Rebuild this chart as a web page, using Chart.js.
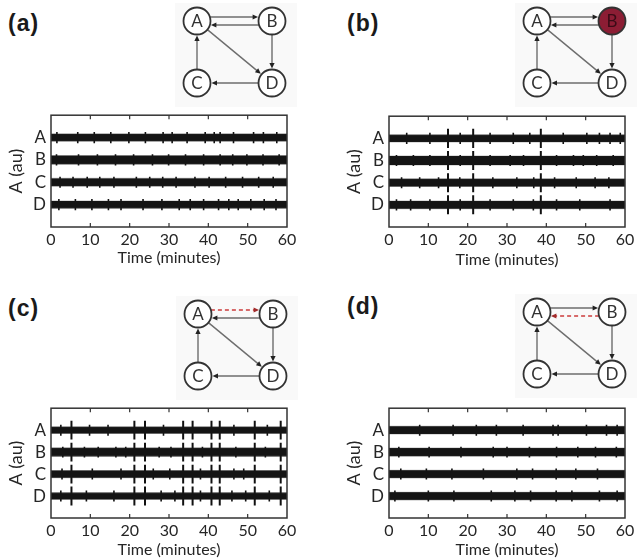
<!DOCTYPE html>
<html><head><meta charset="utf-8">
<script src="https://cdn.jsdelivr.net/npm/chart.js@4.4.1/dist/chart.umd.min.js"></script>
<style>
html,body{margin:0;padding:0;background:#fff;}
#root{position:relative;width:638px;height:559px;overflow:hidden;background:#fff;filter:blur(0.35px);}
canvas{position:absolute;}
.lbl{position:absolute;font-family:"Liberation Sans",Arial,sans-serif;font-weight:bold;font-size:23px;color:#1a1a1a;line-height:1;letter-spacing:1px;}
.dg{background:#f9f9f9;}
</style></head><body>
<div id="root">
  <div class="lbl" style="left:8px;top:12px">(a)</div>
  <div class="lbl" style="left:347px;top:12px">(b)</div>
  <div class="lbl" style="left:8px;top:297px">(c)</div>
  <div class="lbl" style="left:347px;top:295px">(d)</div>
  <canvas class="dg" id="ga" width="122" height="104" style="left:175px;top:3px"></canvas>
  <canvas class="dg" id="gb" width="122" height="104" style="left:515px;top:3px"></canvas>
  <canvas class="dg" id="gc" width="122" height="104" style="left:176px;top:296px"></canvas>
  <canvas class="dg" id="gd" width="122" height="104" style="left:515px;top:294px"></canvas>
  <canvas id="ta" width="300" height="170" style="left:0px;top:100px"></canvas>
  <canvas id="tb" width="300" height="170" style="left:338px;top:101px"></canvas>
  <canvas id="tc" width="300" height="166" style="left:0px;top:393px"></canvas>
  <canvas id="td" width="300" height="166" style="left:338px;top:393px"></canvas>
</div>
<script>
// ---------- data ----------
const timeTicks = [0, 10, 20, 30, 40, 50, 60];
const channels = ['A', 'B', 'C', 'D'];
const channelLevels = [4, 3, 2, 1];

// network diagram
const nodeNames = ['A', 'B', 'C', 'D'];
const nodeX = [0, 1, 0, 1];
const nodeY = [1, 1, 0, 0];
const edgesFrom = ['A', 'B', 'A', 'B', 'D', 'C'];
const edgesTo   = ['B', 'A', 'D', 'D', 'C', 'A'];

// half-width of the dense noise band per channel (A,B,C,D)
const bandA = [0.14, 0.17, 0.15, 0.14];
const bandB = [0.14, 0.18, 0.15, 0.15];
const bandC = [0.13, 0.17, 0.14, 0.13];
const bandD = [0.15, 0.16, 0.15, 0.15];

// minor bursts (minutes) per channel
const burstsA = [
  [1.5, 6.8, 11.0, 15.2, 19.8, 24.0, 28.5, 30.8, 34.6, 39.2, 41.5, 43.0, 46.4, 51.5, 54.0, 57.4],
  [1.4, 7.0, 11.8, 16.4, 21.0, 25.8, 29.9, 34.2, 38.8, 43.0, 46.2, 49.8, 53.9, 58.0],
  [2.3, 5.6, 9.2, 12.4, 16.0, 21.7, 25.1, 28.4, 31.8, 36.6, 40.2, 44.4, 48.7, 52.8, 56.5],
  [2.0, 6.2, 10.4, 14.6, 17.8, 23.4, 28.2, 32.6, 35.4, 38.8, 42.6, 45.2, 47.6, 50.8, 54.2, 57.2]
];
const burstsB = [
  [4.5, 10.4, 18.1, 25.7, 31.6, 35.8, 44.3, 50.3, 53.5, 56.2, 58.8],
  [1.9, 6.2, 10.4, 18.1, 25.7, 30.8, 34.2, 42.6, 46.9, 49.4, 52.8, 57.0],
  [3.2, 7.8, 12.6, 18.0, 26.4, 32.5, 36.8, 42.1, 47.6, 52.4, 55.9],
  [1.9, 5.5, 10.4, 18.1, 25.7, 31.6, 36.7, 42.6, 48.5, 56.2]
];
const burstsC = [
  [2.5, 9.8, 14.5, 28.6, 46.5, 55.0],
  [3.0, 8.5, 12.0, 16.5, 19.0, 27.5, 30.5, 38.5, 47.0, 54.5],
  [2.8, 10.5, 17.8, 26.0, 30.2, 38.0, 46.5, 49.0],
  [2.5, 9.0, 16.0, 28.0, 31.5, 38.0, 46.0, 49.5, 55.5]
];
const burstsD = [
  [7.8, 16.3, 22.2, 27.3, 34.1, 41.7, 43.0, 50.2, 55.3, 58.0],
  [2.5, 10.2, 18.3, 26.5, 30.0, 35.7, 42.6, 48.0, 52.5, 57.8],
  [3.0, 9.5, 16.0, 24.0, 32.5, 36.5, 42.5, 47.5, 53.0],
  [1.5, 10.0, 16.5, 26.0, 32.0, 36.0, 42.5, 46.5, 53.5, 58.0]
];

// large synchronous spikes (minutes), shared by all channels
const spikesA = [];
const spikesB = [15.0, 21.4, 38.6];
const spikesC = [5.2, 21.2, 23.9, 33.6, 36.0, 40.8, 42.9, 51.8, 58.4];
const spikesD = [];

const burstAmp = 0.25;
const spikeAmp = 0.43;

// ---------- drawing ----------
const FONT = 'Lato, "Open Sans", sans-serif';
const TXT = '#262626';
const INK = '#111111';

const framePlugin = {
  id: 'frame',
  afterDraw(c) {
    const {ctx, chartArea: a} = c;
    const xs = c.scales.x;
    ctx.save();
    ctx.strokeStyle = '#333';
    ctx.lineWidth = 1.5;
    ctx.strokeRect(a.left, a.top, a.right - a.left, a.bottom - a.top);
    ctx.lineWidth = 1.2;
    timeTicks.slice(1, -1).forEach(v => {
      const px = xs.getPixelForValue(v);
      ctx.beginPath();
      ctx.moveTo(px, a.bottom); ctx.lineTo(px, a.bottom - 4);
      ctx.moveTo(px, a.top); ctx.lineTo(px, a.top + 4);
      ctx.stroke();
    });
    ctx.restore();
  }
};

function segs(times, lv, amp) {
  const d = [];
  times.forEach(t => { d.push({x: t, y: lv - amp}, {x: t, y: lv + amp}, {x: t, y: null}); });
  return d;
}

function traceChart(id, bands, bursts, spikes, xh, titlePad) {
  const datasets = [];
  channels.forEach((ch, i) => {
    const lv = channelLevels[i], w = bands[i];
    datasets.push({data: [{x: 0, y: lv + w + 0.05}, {x: 60, y: lv + w + 0.05}], borderColor: 'rgba(0,0,0,0)', borderWidth: 1, pointRadius: 0, fill: false});
    datasets.push({data: [{x: 0, y: lv - w - 0.05}, {x: 60, y: lv - w - 0.05}], borderColor: 'rgba(0,0,0,0)', borderWidth: 1, pointRadius: 0, fill: '-1', backgroundColor: 'rgba(30,30,30,0.3)'});
    datasets.push({data: [{x: 0, y: lv + w}, {x: 60, y: lv + w}], borderColor: INK, borderWidth: 1, pointRadius: 0, fill: false});
    datasets.push({data: [{x: 0, y: lv - w}, {x: 60, y: lv - w}], borderColor: INK, borderWidth: 1, pointRadius: 0, fill: '-1', backgroundColor: INK});
    datasets.push({data: segs(bursts[i], lv, burstAmp), borderColor: INK, borderWidth: 1.6, pointRadius: 0, spanGaps: false, fill: false});
    datasets.push({data: segs(spikes, lv, spikeAmp), borderColor: INK, borderWidth: 2, pointRadius: 0, spanGaps: false, fill: false});
  });
  return new Chart(document.getElementById(id), {
    type: 'line',
    data: {datasets},
    plugins: [framePlugin],
    options: {
      responsive: false, animation: false, events: [],
      layout: {padding: {left: 0, right: 13, top: 11, bottom: 0}},
      plugins: {legend: {display: false}, tooltip: {enabled: false}},
      scales: {
        x: {
          type: 'linear', min: 0, max: 60,
          afterBuildTicks: a => { a.ticks = timeTicks.map(v => ({value: v})); },
          grid: {display: false, drawTicks: false}, border: {display: false},
          ticks: {font: {family: FONT, size: 16}, color: TXT, padding: 3, maxRotation: 0, autoSkip: false},
          title: {display: true, text: 'Time (minutes)', font: {family: FONT, size: 16}, color: TXT, padding: {top: 0, bottom: titlePad}},
          afterFit: s => { s.height = xh; }
        },
        y: {
          min: 0, max: 5,
          afterBuildTicks: a => { a.ticks = channelLevels.map(v => ({value: v})); },
          grid: {display: false, drawTicks: false}, border: {display: false},
          ticks: {font: {family: FONT, size: 17}, color: TXT, padding: 5,
                  callback: v => channels[channelLevels.indexOf(v)]},
          title: {display: true, text: 'A (au)', font: {family: FONT, size: 18}, color: TXT, padding: {top: 5, bottom: 0}},
          afterFit: s => { s.width = 51; }
        }
      }
    }
  });
}

const edgePlugin = {
  id: 'edges',
  beforeDatasetsDraw(c) {
    const o = c.options.plugins.edges;
    const {ctx} = c;
    const xs = c.scales.x, ys = c.scales.y;
    const R = 13.5;
    edgesFrom.forEach((f, k) => {
      const t = edgesTo[k];
      const i = nodeNames.indexOf(f), j = nodeNames.indexOf(t);
      const x1 = xs.getPixelForValue(nodeX[i]), y1 = ys.getPixelForValue(nodeY[i]);
      const x2 = xs.getPixelForValue(nodeX[j]), y2 = ys.getPixelForValue(nodeY[j]);
      const bidir = edgesFrom.some((f2, m) => f2 === t && edgesTo[m] === f);
      const dx = x2 - x1, dy = y2 - y1, L = Math.hypot(dx, dy), ux = dx / L, uy = dy / L;
      const nx = uy, ny = -ux;
      const off = bidir ? 4 : 0;
      const s = Math.sqrt(R * R - off * off);
      const ax = x1 + nx * off + ux * s, ay = y1 + ny * off + uy * s;
      const bx = x2 + nx * off - ux * (s + 1), by = y2 + ny * off - uy * (s + 1);
      const red = o.dashed === f + '>' + t;
      ctx.save();
      ctx.strokeStyle = red ? '#cc3b3b' : '#6e6e6e';
      ctx.lineWidth = red ? 1.6 : 1.4;
      if (red) ctx.setLineDash([4, 3]);
      ctx.beginPath(); ctx.moveTo(ax, ay); ctx.lineTo(bx - ux * 3, by - uy * 3); ctx.stroke();
      ctx.setLineDash([]);
      ctx.fillStyle = red ? '#a02a2a' : '#222';
      const hl = 5.5, hw = 2.6;
      ctx.beginPath();
      ctx.moveTo(bx, by);
      ctx.lineTo(bx - ux * hl + nx * hw, by - uy * hl + ny * hw);
      ctx.lineTo(bx - ux * hl - nx * hw, by - uy * hl - ny * hw);
      ctx.closePath(); ctx.fill();
      ctx.restore();
    });
  },
  afterDatasetsDraw(c) {
    const {ctx} = c;
    const xs = c.scales.x, ys = c.scales.y;
    ctx.save();
    ctx.font = '17px ' + FONT;
    ctx.textAlign = 'center'; ctx.textBaseline = 'middle';
    nodeNames.forEach((n, i) => {
      ctx.fillStyle = (c.options.plugins.edges.filled === n) ? '#3a0b16' : '#333';
      ctx.fillText(n, xs.getPixelForValue(nodeX[i]), ys.getPixelForValue(nodeY[i]) + 1);
    });
    ctx.restore();
  }
};

function diagram(id, filled, dashed) {
  return new Chart(document.getElementById(id), {
    type: 'scatter',
    data: {datasets: [{
      data: nodeNames.map((n, i) => ({x: nodeX[i], y: nodeY[i]})),
      pointRadius: 13.5, pointBorderWidth: 1.8, pointBorderColor: '#333333',
      pointBackgroundColor: nodeNames.map(n => n === filled ? '#8c1d34' : '#ffffff'),
      clip: false
    }]},
    plugins: [edgePlugin],
    options: {
      responsive: false, animation: false, events: [],
      layout: {padding: {left: 22, right: 25, top: 18, bottom: 24}},
      plugins: {legend: {display: false}, tooltip: {enabled: false}, edges: {filled, dashed}},
      scales: {x: {display: false, min: 0, max: 1}, y: {display: false, min: 0, max: 1}}
    }
  });
}

diagram('ga', null, null);
diagram('gb', 'B', null);
diagram('gc', null, 'A>B');
diagram('gd', null, 'B>A');

traceChart('ta', bandA, burstsA, spikesA, 43, 3);
traceChart('tb', bandB, burstsB, spikesB, 44, 2);
traceChart('tc', bandC, burstsC, spikesC, 41, 0);
traceChart('td', bandD, burstsD, spikesD, 41, 0);
</script>
</body></html>
